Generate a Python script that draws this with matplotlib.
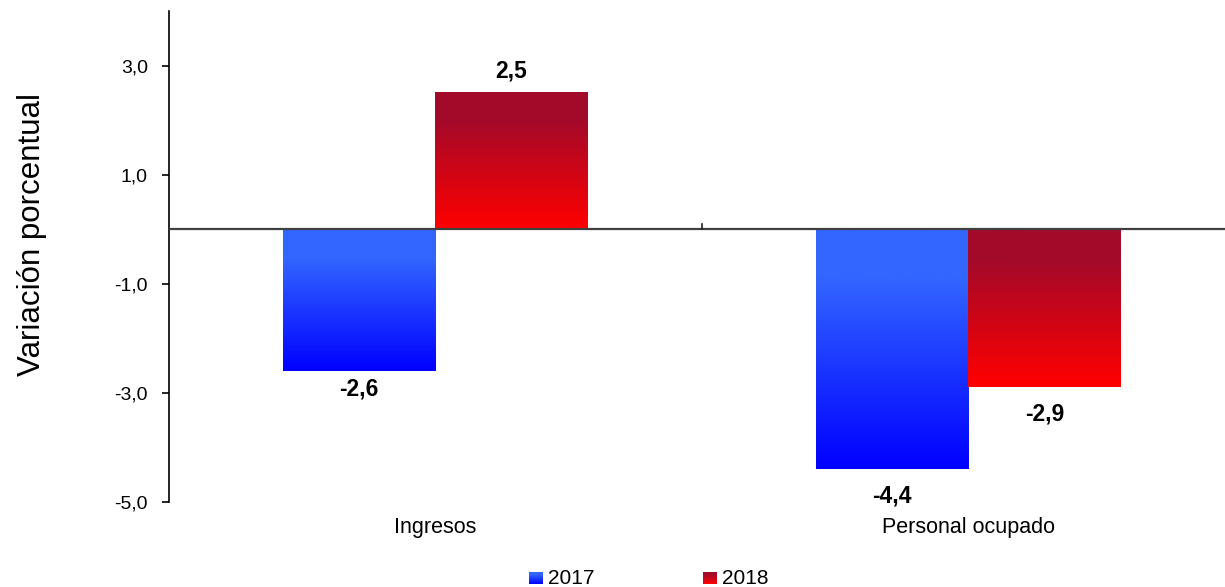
import numpy as np
import matplotlib
matplotlib.use("Agg")
import matplotlib.pyplot as plt
from matplotlib.colors import LinearSegmentedColormap

plt.rcParams['font.family'] = ['Liberation Sans', 'DejaVu Sans']

categories = ["Ingresos", "Personal ocupado"]
series = ["2017", "2018"]
v2017 = [-2.6, -4.4]
v2018 = [2.5, -2.9]
yticks = [-5.0, -3.0, -1.0, 1.0, 3.0]

# gradient colours (top -> bottom)
grad_2017 = ["#3366FF", "#3366FF", "#0000FF"]
grad_2018 = ["#A30A2A", "#A30A2A", "#FF0000"]
stops = [0.0, 0.2, 1.0]

def make_cmap(cols):
    return LinearSegmentedColormap.from_list("g", list(zip(stops, cols)))

cmaps = [make_cmap(grad_2017), make_cmap(grad_2018)]

fig = plt.figure(figsize=(12.25, 5.87), dpi=100)
# axes runs a bit past the right edge of the figure, like the original
ax = fig.add_axes([0.1377, 0.1453, 0.8702, 0.8354])

width = 0.286
x = np.arange(len(categories))
grad = np.linspace(0, 1, 256).reshape(-1, 1)

# label offsets in points (positive = above)
lab_off = [[-13, 16], [-19.5, -19]]

for si, vals in enumerate([v2017, v2018]):
    for ci, v in enumerate(vals):
        x0 = x[ci] + (si - 1) * width
        top, bot = max(v, 0), min(v, 0)
        ax.imshow(grad, cmap=cmaps[si], aspect='auto',
                  extent=[x0, x0 + width, bot, top], zorder=2,
                  interpolation='bilinear')
        ax.annotate(f"{v:.1f}".replace(".", ","), (x0 + width / 2, v),
                    xytext=(0, lab_off[ci][si]), textcoords='offset points',
                    ha='center', va='center', fontsize=16.5, fontweight='bold')

ax.set_xlim(-0.5, 1.5)
ax.set_ylim(-5.0, 4.0)
ax.axhline(0, color="#404040", lw=1.6, zorder=3)
ax.plot([0.5, 0.5], [0, 0.1], color="#202020", lw=1.2, zorder=3)

ax.set_yticks(yticks)
ax.set_yticklabels([f"{t:.1f}".replace(".", ",") for t in yticks], fontsize=14)
ax.tick_params(axis='y', length=5, width=1.2, pad=10)
ax.set_xticks(x)
ax.set_xticklabels(categories, fontsize=15.5)
ax.tick_params(axis='x', length=0, pad=11)

for s in ["top", "right", "bottom"]:
    ax.spines[s].set_visible(False)
ax.spines["left"].set_linewidth(1.2)

fig.text(0.026, 0.600, "Variación porcentual", rotation=90, fontsize=22.5,
         ha='center', va='center')

# legend with gradient squares
leg_x = [529, 703]
for si, name in enumerate(series):
    lx = leg_x[si] / 1225
    sq = fig.add_axes([lx, 1 - 584 / 587, 14 / 1225, 12 / 587])
    sq.imshow(grad, cmap=cmaps[si], aspect='auto', interpolation='bilinear')
    sq.axis('off')
    fig.text(lx + 19 / 1225, 1 - 578 / 587, name, fontsize=15,
             ha='left', va='center')

fig.savefig("out.png", dpi=100)
